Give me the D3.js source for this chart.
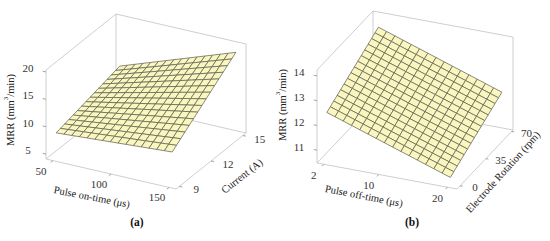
<!DOCTYPE html>
<html>
<head>
<meta charset="utf-8">
<script src="https://cdnjs.cloudflare.com/ajax/libs/d3/7.8.5/d3.min.js"></script>
<style>
  body { margin: 0; background: #fff; }
  svg { display: block; font-family: "Liberation Serif", "Times New Roman", serif; }
</style>
</head>
<body>
<svg id="chart" width="550" height="241"></svg>
<script>
// (a) MRR vs pulse on-time and current
var onTime = [50, 150];
var current = [9, 15];
var mrrA = [[8.7, 11.6], [10.1, 19.0]];   // mrrA[i][j] -> onTime[i], current[j]
var onTimeTicks = [50, 100, 150];
var currentTicks = [9, 12, 15];
var mrrTicksA = [5, 10, 15, 20];

// (b) MRR vs pulse off-time and electrode rotation
var offTime = [2, 20];
var rotation = [0, 70];
var mrrB = [[12.45, 13.7], [10.75, 12.0]];
var offTimeTicks = [2, 10, 20];
var rotationTicks = [0, 35, 70];
var mrrTicksB = [11, 12, 13, 14];

var meshN = 15;

var svg = d3.select("#chart");

var panel = function(args) {
  var g = svg.append("g");

  var sx = d3.scaleLinear().domain(args.xDomain).range([0, 1]),
      sy = d3.scaleLinear().domain(args.yDomain).range([0, 1]),
      sz = d3.scaleLinear().domain(args.zDomain).range([0, 1]);

  var proj = function(x, y, z) {
    var u = sx(x), v = sy(y), w = sz(z);
    return [args.origin[0] + u*args.ex[0] + v*args.ey[0] + w*args.ez[0],
            args.origin[1] + u*args.ex[1] + v*args.ey[1] + w*args.ez[1]];
  };

  var x0 = args.xDomain[0], x1 = args.xDomain[1],
      y0 = args.yDomain[0], y1 = args.yDomain[1],
      z0 = args.zDomain[0], z1 = args.zDomain[1];

  // floor and two back walls
  var edges = [
    [[x0,y0,z0],[x1,y0,z0]], [[x1,y0,z0],[x1,y1,z0]],
    [[x1,y1,z0],[x0,y1,z0]], [[x0,y1,z0],[x0,y0,z0]],
    [[x0,y0,z0],[x0,y0,z1]], [[x0,y0,z1],[x0,y1,z1]],
    [[x0,y1,z0],[x0,y1,z1]], [[x0,y1,z1],[x1,y1,z1]],
    [[x1,y1,z1],[x1,y1,z0]]
  ];

  g.selectAll("line.box").data(edges).enter().append("line")
    .attr("class", "box")
    .attr("x1", function(d) { return proj(d[0][0], d[0][1], d[0][2])[0]; })
    .attr("y1", function(d) { return proj(d[0][0], d[0][1], d[0][2])[1]; })
    .attr("x2", function(d) { return proj(d[1][0], d[1][1], d[1][2])[0]; })
    .attr("y2", function(d) { return proj(d[1][0], d[1][1], d[1][2])[1]; })
    .attr("stroke", "#c8c8c8")
    .attr("stroke-width", 0.9);

  // ticks + labels
  var tickSets = [];
  args.xTicks.forEach(function(t) { tickSets.push({p: [t, y0, z0], off: args.xLab, text: t}); });
  args.yTicks.forEach(function(t) { tickSets.push({p: [x1, t, z0], off: args.yLab, text: t}); });
  args.zTicks.forEach(function(t) { tickSets.push({p: [x0, y0, t], off: args.zLab, text: t}); });

  g.selectAll("line.tick").data(tickSets).enter().append("line")
    .attr("class", "tick")
    .attr("x1", function(d) { return proj(d.p[0], d.p[1], d.p[2])[0]; })
    .attr("y1", function(d) { return proj(d.p[0], d.p[1], d.p[2])[1]; })
    .attr("x2", function(d) { return proj(d.p[0], d.p[1], d.p[2])[0] + d.off[0]*0.18; })
    .attr("y2", function(d) { return proj(d.p[0], d.p[1], d.p[2])[1] + d.off[1]*0.18; })
    .attr("stroke", "#999")
    .attr("stroke-width", 0.9);

  g.selectAll("text.tick").data(tickSets).enter().append("text")
    .attr("class", "tick")
    .attr("x", function(d) { return proj(d.p[0], d.p[1], d.p[2])[0] + d.off[0]; })
    .attr("y", function(d) { return proj(d.p[0], d.p[1], d.p[2])[1] + d.off[1]; })
    .attr("text-anchor", "middle")
    .attr("dominant-baseline", "central")
    .attr("font-size", 11)
    .attr("fill", "#333")
    .text(function(d) { return d.text; });

  // surface mesh
  var gx = d3.scaleLinear().domain([0, meshN]).range(args.xs),
      gy = d3.scaleLinear().domain([0, meshN]).range(args.ys);
  var zAt = function(i, j) {
    var s = i / meshN, t = j / meshN, m = args.zs;
    return (1-s)*(1-t)*m[0][0] + s*(1-t)*m[1][0] + (1-s)*t*m[0][1] + s*t*m[1][1];
  };
  var cells = [];
  for (var i = 0; i < meshN; i++) {
    for (var j = meshN - 1; j >= 0; j--) {
      cells.push([[i,j],[i+1,j],[i+1,j+1],[i,j+1]]);
    }
  }
  g.selectAll("path.cell").data(cells).enter().append("path")
    .attr("class", "cell")
    .attr("d", function(c) {
      return "M" + c.map(function(k) {
        return proj(gx(k[0]), gy(k[1]), zAt(k[0], k[1])).join(",");
      }).join("L") + "Z";
    })
    .attr("fill", "#f9f6c0")
    .attr("stroke", "#5a5a4a")
    .attr("stroke-width", 0.7)
    .attr("stroke-linejoin", "round");

  // axis titles
  var t = g.append("text")
    .attr("transform", "translate(" + args.zTitle[0] + "," + args.zTitle[1] + ") rotate(-90)")
    .attr("text-anchor", "middle")
    .attr("dominant-baseline", "central")
    .attr("font-size", 10.5)
    .attr("fill", "#222");
  t.append("tspan").text("MRR (mm");
  t.append("tspan").attr("font-size", 7).attr("dy", -4).text("3");
  t.append("tspan").attr("dy", 4).text("/min)");

  g.append("text")
    .attr("transform", "translate(" + args.xTitle[0] + "," + args.xTitle[1] + ") rotate(" + args.xTitle[2] + ")")
    .attr("text-anchor", "middle")
    .attr("dominant-baseline", "central")
    .attr("font-size", 10.5)
    .attr("fill", "#222")
    .text(args.xName);

  g.append("text")
    .attr("transform", "translate(" + args.yTitle[0] + "," + args.yTitle[1] + ") rotate(" + args.yTitle[2] + ")")
    .attr("text-anchor", "middle")
    .attr("dominant-baseline", "central")
    .attr("font-size", 10.5)
    .attr("fill", "#222")
    .text(args.yName);

  g.append("text")
    .attr("x", args.tag[0])
    .attr("y", args.tag[1])
    .attr("text-anchor", "middle")
    .attr("dominant-baseline", "central")
    .attr("font-size", 11.5)
    .attr("font-weight", "bold")
    .attr("fill", "#111")
    .text(args.tag[2]);
};

panel({
  xDomain: [44, 156], yDomain: [8.7, 15.3], zDomain: [4.1, 20.35],
  origin: [46, 159], ex: [130, 30], ey: [70, -56], ez: [0, -89],
  xs: onTime, ys: current, zs: mrrA,
  xTicks: onTimeTicks, yTicks: currentTicks, zTicks: mrrTicksA,
  xLab: [-12, 10], yLab: [17, 3], zLab: [-18, -4],
  zTitle: [10, 110], xTitle: [92, 197, 11], yTitle: [242, 176, -38],
  xName: "Pulse on-time (\u03bcs)", yName: "Current (A)",
  tag: [137, 222, "(a)"]
});

panel({
  xDomain: [1, 21.4], yDomain: [-4, 72], zDomain: [10.48, 14.24],
  origin: [317, 163], ex: [140, 26], ey: [56, -59], ez: [0, -93],
  xs: offTime, ys: rotation, zs: mrrB,
  xTicks: offTimeTicks, yTicks: rotationTicks, zTicks: mrrTicksB,
  xLab: [-10, 11], yLab: [15, 1.5], zLab: [-18, -3.5],
  zTitle: [282, 105], xTitle: [364, 196, 11], yTitle: [503, 172, -48],
  xName: "Pulse off-time (\u03bcs)", yName: "Electrode Rotation (rpm)",
  tag: [412, 222, "(b)"]
});
</script>
</body>
</html>
